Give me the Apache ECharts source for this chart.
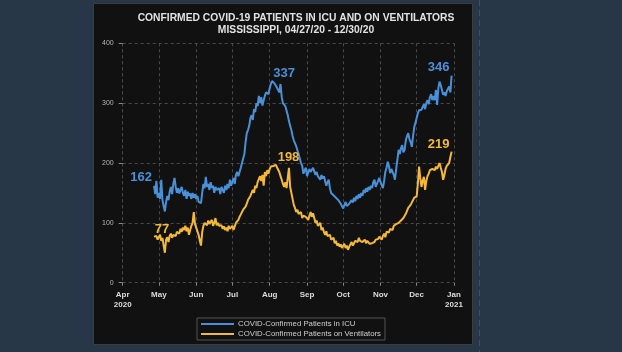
<!DOCTYPE html>
<html>
<head>
<meta charset="utf-8">
<script src="https://cdn.jsdelivr.net/npm/echarts@6/dist/echarts.min.js"></script>
<style>
  html, body { margin: 0; padding: 0; background: #283747; }
  #chart { width: 622px; height: 352px; }
</style>
</head>
<body>
<div id="chart"></div>
<script>
// daily values, 2020-04-27 .. 2020-12-30
const startDay = [2020, 3, 27]

const icuPatients = [
  // Apr 27-30
  162, 148, 170, 142,
  // May
  150, 140, 172, 138, 128, 119, 135, 145, 138, 152, 160, 148, 165, 175, 160, 150,
  158, 149, 155, 160, 150, 145, 155, 140, 152, 145, 149, 140, 150, 142, 148,
  // Jun
  140, 145, 135, 138, 133, 150, 165, 158, 177, 160, 165, 155, 168, 158, 162,
  150, 160, 155, 152, 158, 148, 160, 155, 150, 162, 155, 165, 158, 172, 162,
  // Jul
  160, 175, 165, 180, 185, 178, 185, 192, 200, 198, 215, 235, 250, 255, 262, 275,
  280, 272, 290, 285, 300, 295, 312, 300, 310, 296, 305, 312, 318, 320, 315,
  // Aug
  325, 332, 337, 335, 333, 330, 326, 322, 318, 332, 310, 300, 302, 295, 292, 280,
  270, 262, 255, 245, 238, 235, 228, 225, 215, 212, 200, 195, 182, 188, 192,
  // Sep
  178, 180, 190, 185, 182, 192, 186, 180, 185, 178, 175, 172, 180, 174, 178,
  170, 162, 168, 172, 158, 150, 152, 146, 148, 142, 145, 138, 140, 132, 128,
  // Oct
  124, 126, 135, 128, 125, 132, 130, 138, 134, 142, 136, 145, 140, 148, 142, 150,
  145, 155, 150, 158, 152, 160, 155, 162, 158, 168, 172, 160, 165, 170, 175,
  // Nov
  168, 165, 158, 170, 185, 192, 202, 195, 183, 190, 188, 180, 172, 190, 205,
  222, 215, 225, 230, 218, 222, 238, 245, 250, 240, 235, 227, 245, 260, 267,
  // Dec 1-30
  275, 283, 288, 285, 289, 292, 298, 290, 300, 305, 298, 310, 315, 305, 312,
  305, 322, 297, 325, 336, 330, 322, 314, 318, 312, 320, 322, 328, 318, 346
]

const ventPatients = [
  // Apr 27-30
  77, 74, 78, 72,
  // May
  76, 80, 70, 75, 62, 50, 72, 76, 68, 78, 82, 75, 80, 83, 78, 85,
  88, 82, 90, 85, 92, 88, 95, 86, 92, 80, 88, 95, 100, 118, 98,
  // Jun
  92, 95, 80, 70, 62, 85, 95, 100, 102, 96, 104, 98, 100, 105, 95,
  100, 108, 96, 100, 95, 92, 96, 90, 94, 88, 92, 86, 95, 90, 88,
  // Jul
  95, 88, 86, 100, 98, 105, 110, 108, 118, 122, 120, 127, 132, 138, 135, 145,
  144, 155, 150, 162, 158, 168, 165, 178, 170, 180, 162, 185, 178, 188, 182,
  // Aug
  190, 194, 196, 195, 198, 197, 193, 192, 185, 178, 172, 165, 160, 168, 158, 175,
  192, 160, 150, 140, 130, 125, 118, 122, 115, 112, 118, 108, 112, 115, 110,
  // Sep
  110, 105, 112, 118, 110, 116, 108, 100, 104, 95, 94, 100, 88, 92, 85,
  80, 86, 78, 77, 80, 72, 70, 75, 66, 70, 62, 66, 60, 64, 58,
  // Oct
  60, 65, 58, 62, 55, 60, 64, 68, 62, 66, 70, 72, 68, 75, 70, 72,
  68, 70, 72, 66, 70, 68, 65, 62, 66, 64, 68, 72, 75, 73, 77,
  // Nov
  75, 72, 78, 82, 76, 85, 88, 84, 90, 92, 88, 95, 93, 98, 96,
  100, 98, 104, 102, 108, 110, 115, 118, 125, 128, 130, 133, 138, 142, 145,
  // Dec 1-30
  144, 165, 194, 175, 160, 170, 177, 155, 170, 178, 182, 188, 185, 190, 192,
  188, 194, 190, 195, 200, 192, 185, 172, 180, 190, 195, 197, 200, 210, 219
]

// which days carry a value label (first, summer peak, last)
const icuLabelDays = [0, 98, 247]
const ventLabelDays = [0, 100, 247]

const monthNames = ['Jan', 'Feb', 'Mar', 'Apr', 'May', 'Jun', 'Jul', 'Aug', 'Sep', 'Oct', 'Nov', 'Dec']

const dates = icuPatients.map((_, i) => new Date(startDay[0], startDay[1], startDay[2] + i).getTime())

const blue = '#4a90d9'
const gold = '#f4b93a'

// offsets for the value labels, same order as the *LabelDays arrays
const icuOffsets = [[-13, 3], [12, 4], [-13, 3]]
const ventOffsets = [[8, 4], [14, 5], [-13, 4]]

// value labels drawn as invisible mark points
const buildMarks = (values, labelDays, offsets, color) => ({
  symbol: 'circle',
  symbolSize: 0,
  silent: true,
  label: {
    show: true,
    position: 'top',
    distance: 5,
    color: color,
    fontSize: 13,
    fontWeight: 'bold',
    fontFamily: 'Liberation Sans, Arial, sans-serif',
  },
  data: labelDays.map((day, k) => ({
    coord: [dates[day], values[day]],
    value: values[day],
    label: { offset: offsets[k] },
  })),
})

const chart = echarts.init(document.getElementById('chart'))

const gridLine = { show: true, lineStyle: { color: '#4a4a4a', type: [3, 3], width: 1 } }

const option = {
  backgroundColor: '#283747',
  animation: false,
  textStyle: { fontFamily: 'Liberation Sans, Arial, sans-serif' },
  graphic: [
    // dark panel behind the chart
    {
      type: 'rect',
      z: -10,
      shape: { x: 93.5, y: 3.5, width: 379, height: 341 },
      style: { fill: '#111111', stroke: '#3d3d3d', lineWidth: 1 },
    },
    {
      type: 'line',
      z: -10,
      shape: { x1: 479.5, y1: 0, x2: 479.5, y2: 352 },
      style: { stroke: '#3f5163', lineWidth: 1, lineDash: [6, 4] },
    },
  ],
  title: {
    text: 'CONFIRMED COVID-19 PATIENTS IN ICU AND ON VENTILATORS\nMISSISSIPPI, 04/27/20 - 12/30/20',
    left: 291,
    top: 7,
    textAlign: 'center',
    textStyle: {
      color: '#e2e2e2',
      fontSize: 10.3,
      fontWeight: 'bold',
      lineHeight: 12,
      fontFamily: 'Liberation Sans, Arial, sans-serif',
    },
  },
  legend: {
    orient: 'vertical',
    left: 197,
    top: 318,
    padding: [2, 4, 2, 4],
    itemGap: 2,
    itemWidth: 33,
    itemHeight: 2,
    icon: 'rect',
    backgroundColor: '#111111',
    borderColor: '#555555',
    borderWidth: 1,
    borderRadius: 0,
    textStyle: { color: '#cfcfcf', fontSize: 7.8, padding: [0, 0, 0, -1] },
    data: ['COVID-Confirmed Patients in ICU', 'COVID-Confirmed Patients on Ventilators'],
  },
  grid: { left: 122.7, right: 168, top: 43.3, bottom: 69.3 },
  xAxis: {
    type: 'time',
    min: new Date(2020, 3, 1).getTime(),
    max: new Date(2021, 0, 1).getTime(),
    minInterval: 28 * 86400000,
    maxInterval: 31 * 86400000,
    axisLine: { show: false },
    axisTick: { show: true, length: 3, lineStyle: { color: '#8a8a8a' } },
    splitLine: gridLine,
    axisLabel: {
      color: '#dcdcdc',
      fontSize: 8,
      fontWeight: 'bold',
      lineHeight: 10,
      margin: 7,
      showMinLabel: true,
      showMaxLabel: true,
      hideOverlap: false,
      formatter: (val) => {
        const d = new Date(val)
        const m = monthNames[d.getMonth()]
        if (d.getFullYear() === 2020 && d.getMonth() === 3) return m + '\n2020'
        if (d.getMonth() === 0) return m + '\n' + d.getFullYear()
        return m
      },
    },
  },
  yAxis: {
    type: 'value',
    min: 0,
    max: 400,
    interval: 100,
    axisLine: { show: false },
    axisTick: { show: true, length: 4, lineStyle: { color: '#8a8a8a' } },
    splitLine: gridLine,
    axisLabel: { color: '#b5b5b5', fontSize: 7, margin: 9 },
  },
  series: [
    {
      name: 'COVID-Confirmed Patients in ICU',
      type: 'line',
      symbol: 'none',
      lineStyle: { color: blue, width: 2 },
      itemStyle: { color: blue },
      data: icuPatients.map((v, i) => [dates[i], v]),
      markPoint: buildMarks(icuPatients, icuLabelDays, icuOffsets, blue),
    },
    {
      name: 'COVID-Confirmed Patients on Ventilators',
      type: 'line',
      symbol: 'none',
      lineStyle: { color: gold, width: 2 },
      itemStyle: { color: gold },
      data: ventPatients.map((v, i) => [dates[i], v]),
      markPoint: buildMarks(ventPatients, ventLabelDays, ventOffsets, gold),
    },
  ],
}

chart.setOption(option)
</script>
</body>
</html>
